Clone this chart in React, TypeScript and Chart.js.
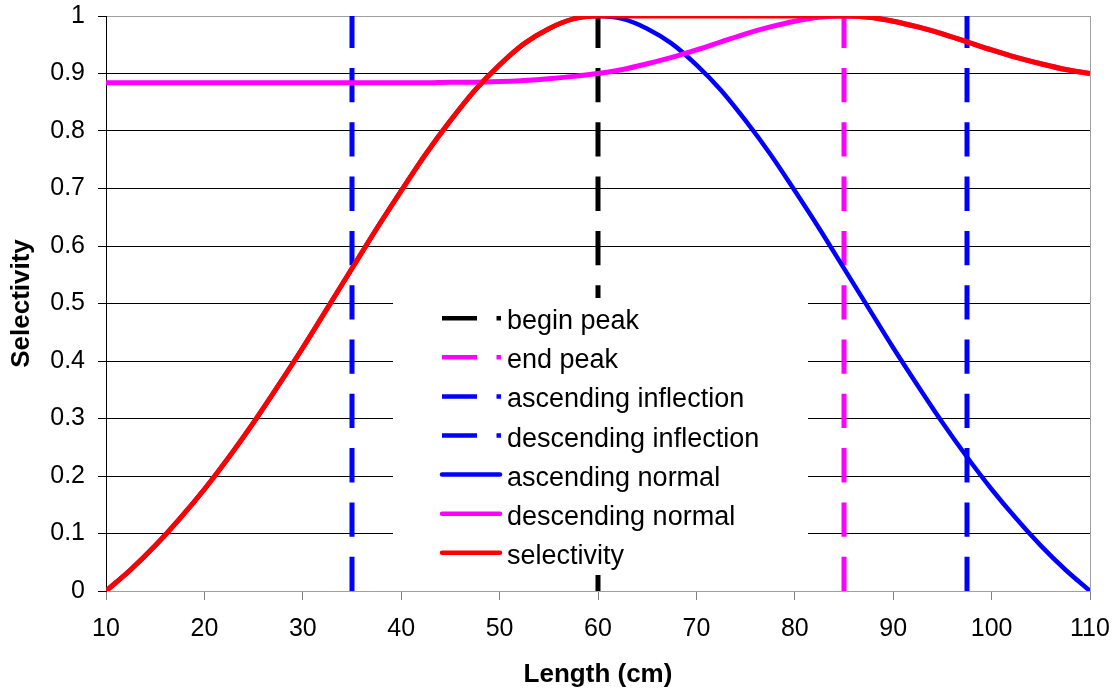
import { useEffect, useRef } from 'react';
import { Chart, registerables } from 'chart.js';

Chart.register(...registerables);

const FONT = "'Liberation Sans', Arial, Helvetica, sans-serif";

// ---- data ----
const lengths = [
  10, 12.5, 15, 17.5, 20, 22.5, 25, 27.5, 30, 32.5, 35, 37.5, 40, 42.5, 45, 47.5, 50, 52.5, 55, 57.5,
  60, 62.5, 65, 67.5, 70, 72.5, 75, 77.5, 80, 82.5, 85, 87.5, 90, 92.5, 95, 97.5, 100, 102.5, 105, 107.5, 110,
];

const ascendingNormal = [
  0, 0.037, 0.079, 0.126, 0.177, 0.233, 0.293, 0.357, 0.423, 0.492, 0.561, 0.63, 0.696, 0.76, 0.818, 0.871, 0.915, 0.952, 0.978, 0.995,
  1, 0.995, 0.978, 0.952, 0.915, 0.871, 0.818, 0.76, 0.696, 0.63, 0.561, 0.492, 0.423, 0.357, 0.293, 0.233, 0.177, 0.126, 0.079, 0.037, 0,
];

const descendingNormal = [
  0.884, 0.884, 0.884, 0.884, 0.884, 0.884, 0.884, 0.884, 0.884, 0.884, 0.884, 0.884, 0.884, 0.884, 0.885, 0.885, 0.886, 0.888, 0.891, 0.895,
  0.9, 0.907, 0.917, 0.928, 0.941, 0.955, 0.969, 0.981, 0.991, 0.998, 1, 0.998, 0.991, 0.981, 0.969, 0.955, 0.941, 0.928, 0.917, 0.907, 0.9,
];

const selectivity = [
  0, 0.037, 0.079, 0.126, 0.177, 0.233, 0.293, 0.357, 0.423, 0.492, 0.561, 0.63, 0.696, 0.76, 0.818, 0.871, 0.915, 0.952, 0.978, 0.995,
  1, 1, 1, 1, 1, 1, 1, 1, 1, 1, 1, 0.998, 0.991, 0.981, 0.969, 0.955, 0.941, 0.928, 0.917, 0.907, 0.9,
];

const beginPeak = 60;
const endPeak = 85;
const ascendingInflection = 35;
const descendingInflection = 97.5;

const xTickValues = [10, 20, 30, 40, 50, 60, 70, 80, 90, 100, 110];
const yTickValues = [0, 0.1, 0.2, 0.3, 0.4, 0.5, 0.6, 0.7, 0.8, 0.9, 1];
const yTickLabels = ['0', '0.1', '0.2', '0.3', '0.4', '0.5', '0.6', '0.7', '0.8', '0.9', '1'];

const legendLabels = [
  'begin peak',
  'end peak',
  'ascending inflection',
  'descending inflection',
  'ascending normal',
  'descending normal',
  'selectivity',
];

const xTitle = 'Length (cm)';
const yTitle = 'Selectivity';

const BLACK = '#000000';
const BLUE = '#0000ff';
const MAGENTA = '#ff00ff';
const RED = '#ff0000';
const BORDER_GRAY = '#a0a0a0';
const DASH = [34.3, 20];

function curve(values: number[]) {
  return lengths.map((x, i) => ({ x, y: values[i] }));
}
function vline(x: number) {
  return [
    { x, y: yTickValues[0] },
    { x, y: yTickValues[yTickValues.length - 1] },
  ];
}

const legendPlugin = {
  id: 'boxLegend',
  afterDraw(chart: any) {
    const ctx = chart.ctx as CanvasRenderingContext2D;
    ctx.save();
    ctx.fillStyle = '#ffffff';
    ctx.fillRect(393, 298, 415, 277);
    legendLabels.forEach((name, i) => {
      const ds = chart.data.datasets.find((d: any) => d.label === name);
      if (!ds) return;
      const y = 318.3 + i * 39.07;
      ctx.beginPath();
      ctx.strokeStyle = ds.borderColor;
      ctx.lineWidth = 4.5;
      if (ds.borderDash && ds.borderDash.length) {
        ctx.setLineDash([35, 19.5]);
        ctx.lineCap = 'butt';
        ctx.moveTo(442, y);
        ctx.lineTo(501, y);
      } else {
        ctx.setLineDash([]);
        ctx.lineCap = 'round';
        ctx.moveTo(442, y);
        ctx.lineTo(500, y);
      }
      ctx.stroke();
      ctx.setLineDash([]);
      ctx.fillStyle = '#000000';
      ctx.font = `27px ${FONT}`;
      ctx.textAlign = 'left';
      ctx.textBaseline = 'alphabetic';
      ctx.fillText(name, 507, y + 11);
    });
    ctx.restore();
  },
};

const rightBorderPlugin = {
  id: 'rightBorder',
  beforeDatasetsDraw(chart: any) {
    const { ctx, chartArea } = chart;
    ctx.save();
    ctx.strokeStyle = BORDER_GRAY;
    ctx.lineWidth = 1;
    const x = Math.round(chartArea.right) + 0.5;
    ctx.beginPath();
    ctx.moveTo(x, chartArea.top);
    ctx.lineTo(x, chartArea.bottom);
    ctx.stroke();
    ctx.restore();
  },
};

export default function App() {
  const ref = useRef<HTMLCanvasElement>(null);

  useEffect(() => {
    const canvas = ref.current;
    if (!canvas) return;
    Chart.defaults.font.family = FONT;
    Chart.defaults.color = '#000';

    const common = {
      pointRadius: 0,
      pointHoverRadius: 0,
      fill: false,
      clip: 0,
    };

    const chart = new Chart(canvas, {
      type: 'line',
      data: {
        datasets: [
          { ...common, label: legendLabels[0], data: vline(beginPeak), borderColor: BLACK, borderWidth: 5, borderDash: DASH, borderCapStyle: 'butt', order: 6 },
          { ...common, label: legendLabels[1], data: vline(endPeak), borderColor: MAGENTA, borderWidth: 5, borderDash: DASH, borderCapStyle: 'butt', order: 5 },
          { ...common, label: legendLabels[2], data: vline(ascendingInflection), borderColor: BLUE, borderWidth: 5, borderDash: DASH, borderCapStyle: 'butt', order: 4 },
          { ...common, label: legendLabels[3], data: vline(descendingInflection), borderColor: BLUE, borderWidth: 5, borderDash: DASH, borderCapStyle: 'butt', order: 3 },
          { ...common, label: legendLabels[4], data: curve(ascendingNormal), borderColor: BLUE, borderWidth: 4.5, cubicInterpolationMode: 'monotone', order: 2 },
          { ...common, label: legendLabels[5], data: curve(descendingNormal), borderColor: MAGENTA, borderWidth: 5, cubicInterpolationMode: 'monotone', order: 1 },
          { ...common, label: legendLabels[6], data: curve(selectivity), borderColor: RED, borderWidth: 5, cubicInterpolationMode: 'monotone', order: 0 },
        ],
      } as any,
      options: {
        responsive: false,
        animation: false,
        devicePixelRatio: 1,
        events: [],
        layout: { padding: { top: 16, right: 27, bottom: 0, left: 0 } },
        plugins: {
          legend: { display: false },
          tooltip: { enabled: false },
          title: { display: false },
        },
        scales: {
          x: {
            type: 'linear',
            min: xTickValues[0],
            max: xTickValues[xTickValues.length - 1],
            afterBuildTicks: (s: any) => {
              s.ticks = xTickValues.map((v) => ({ value: v }));
            },
            afterFit: (s: any) => {
              s.height = 103;
              s.paddingLeft = 0;
              s.paddingRight = 0;
            },
            grid: {
              drawOnChartArea: false,
              drawTicks: true,
              tickLength: 9,
              color: '#808080',
              tickColor: '#808080',
            },
            border: { display: true, color: BORDER_GRAY, width: 1 },
            ticks: {
              padding: 14,
              maxRotation: 0,
              autoSkip: false,
              color: '#000',
              font: { size: 25, family: FONT },
              callback: (v: any) => String(v),
            },
            title: {
              display: true,
              text: xTitle,
              color: '#000',
              font: { size: 26, weight: 'bold', family: FONT },
              padding: { top: 0, bottom: 4 },
            },
          },
          y: {
            type: 'linear',
            min: yTickValues[0],
            max: yTickValues[yTickValues.length - 1],
            afterBuildTicks: (s: any) => {
              s.ticks = yTickValues.map((v) => ({ value: v }));
            },
            afterFit: (s: any) => {
              s.width = 106;
              s.paddingTop = 0;
              s.paddingBottom = 0;
            },
            grid: {
              drawOnChartArea: true,
              drawTicks: true,
              tickLength: 8,
              lineWidth: 1,
              color: (c: any) => {
                const v = c.tick ? c.tick.value : null;
                return v === yTickValues[0] || v === yTickValues[yTickValues.length - 1] ? BORDER_GRAY : '#000000';
              },
              tickColor: '#000000',
            },
            border: { display: true, color: '#000000', width: 1 },
            ticks: {
              padding: 13,
              autoSkip: false,
              color: '#000',
              font: { size: 25, family: FONT },
              callback: (_v: any, i: number) => yTickLabels[i],
            },
            title: {
              display: true,
              text: yTitle,
              color: '#000',
              font: { size: 26, weight: 'bold', family: FONT },
              padding: { top: 6, bottom: 0 },
            },
          },
        },
      } as any,
      plugins: [rightBorderPlugin, legendPlugin],
    });

    return () => {
      chart.destroy();
    };
  }, []);

  return (
    <div style={{ position: 'absolute', left: 0, top: 0, width: 1117, height: 694, background: '#ffffff' }}>
      <canvas ref={ref} width={1117} height={694} style={{ display: 'block', width: 1117, height: 694 }} />
    </div>
  );
}
